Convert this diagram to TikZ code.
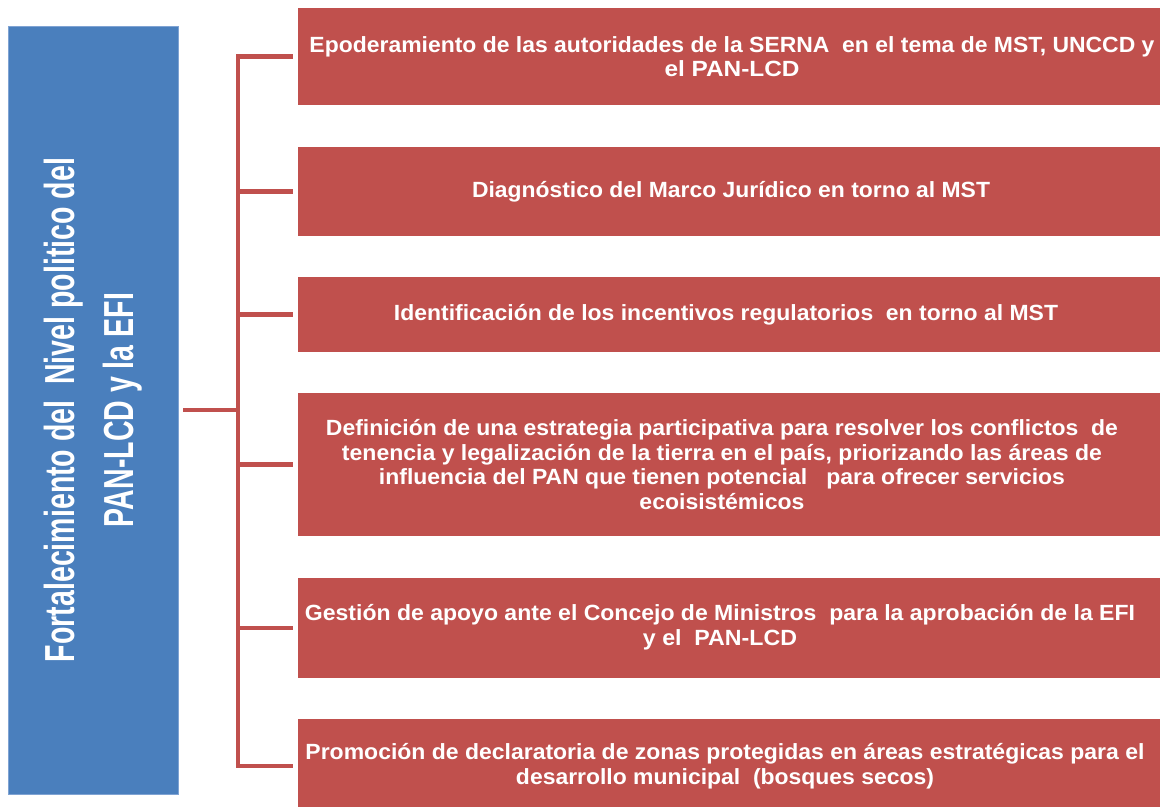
\documentclass[tikz,border=0pt]{standalone}
\usepackage{fontspec}
\setmainfont{Liberation Sans}
\usepackage{graphicx}
\definecolor{boxred}{HTML}{C0504D}
\definecolor{boxblue}{HTML}{4A7FBD}
\definecolor{boxblueedge}{HTML}{7FA3D3}
\newcommand{\fitw}[2]{\resizebox{#1pt}{\height}{#2}}
\tikzset{
  rbox/.style={fill=boxred, draw=none, inner sep=0pt, minimum width=862pt},
  rtext/.style={text=white, align=center, inner sep=0pt,
    font=\bfseries\fontsize{22}{24.5}\selectfont},
  link/.style={draw=boxred, line width=4.5pt},
}
\begin{document}
\begin{tikzpicture}[x=1pt, y=-1pt]
\useasboundingbox (0,0) rectangle (1162,806);
\clip (0,0) rectangle (1162,806);

% root box
\node[fill=boxblue, draw=boxblueedge, line width=0.8pt, text=white, rotate=90,
  minimum width=768pt, minimum height=170pt, inner sep=0pt, align=center,
  font=\bfseries\fontsize{42}{59}\selectfont] (root) at (93,410)
  {\fitw{504}{Fortalecimiento del\ \ Nivel politico del}\\
   \fitw{234}{PAN-LCD y la EFI}};

% child boxes
\node[rbox, minimum height=97pt]  (b1) at (729,56.5) {};
\node[rbox, minimum height=89pt]  (b2) at (729,191.5) {};
\node[rbox, minimum height=75pt]  (b3) at (729,314.5) {};
\node[rbox, minimum height=143pt] (b4) at (729,464.5) {};
\node[rbox, minimum height=100pt] (b5) at (729,628) {};
\node[rbox, minimum height=94pt]  (b6) at (729,766) {};

% texts
\node[rtext] (t1) at ([xshift=3pt]b1.center)
  {\fitw{845}{Epoderamiento de las autoridades de la SERNA\ \ en el tema de MST, UNCCD y}\\
   \fitw{135}{el PAN-LCD}};
\node[rtext] (t2) at ([xshift=2pt]b2.center)
  {\fitw{518}{Diagnóstico del Marco Jurídico en torno al MST}};
\node[rtext] (t3) at ([xshift=-3pt]b3.center)
  {\fitw{664}{Identificación de los incentivos regulatorios\ \ en torno al MST}};
\node[rtext] (t4) at ([xshift=-7pt]b4.center)
  {\fitw{792}{Definición de una estrategia participativa para resolver los conflictos\ \ de}\\
   \fitw{760}{tenencia y legalización de la tierra en el país, priorizando las áreas de}\\
   \fitw{686}{influencia del PAN que tienen potencial\ \ \ para ofrecer servicios}\\
   \fitw{165}{ecoisistémicos}};
\node[rtext] (t5) at ([xshift=-9pt,yshift=1pt]b5.center)
  {\fitw{830}{Gestión de apoyo ante el Concejo de Ministros\ \ para la aprobación de la EFI}\\
   \fitw{154}{y el\ \ PAN-LCD}};
\node[rtext] (t6) at ([xshift=-4pt]b6.center)
  {\fitw{839}{Promoción de declaratoria de zonas protegidas en áreas estratégicas para el}\\
   \fitw{418}{desarrollo municipal\ \ (bosques secos)}};

% connectors
\coordinate (hub) at (238,410);
\draw[link] ([xshift=5pt]root.south) -- (hub);
\foreach \b in {b1,b2,b3,b4,b5,b6}
  \draw[link] (hub) |- ([xshift=-5pt]\b.west);
\end{tikzpicture}
\end{document}
